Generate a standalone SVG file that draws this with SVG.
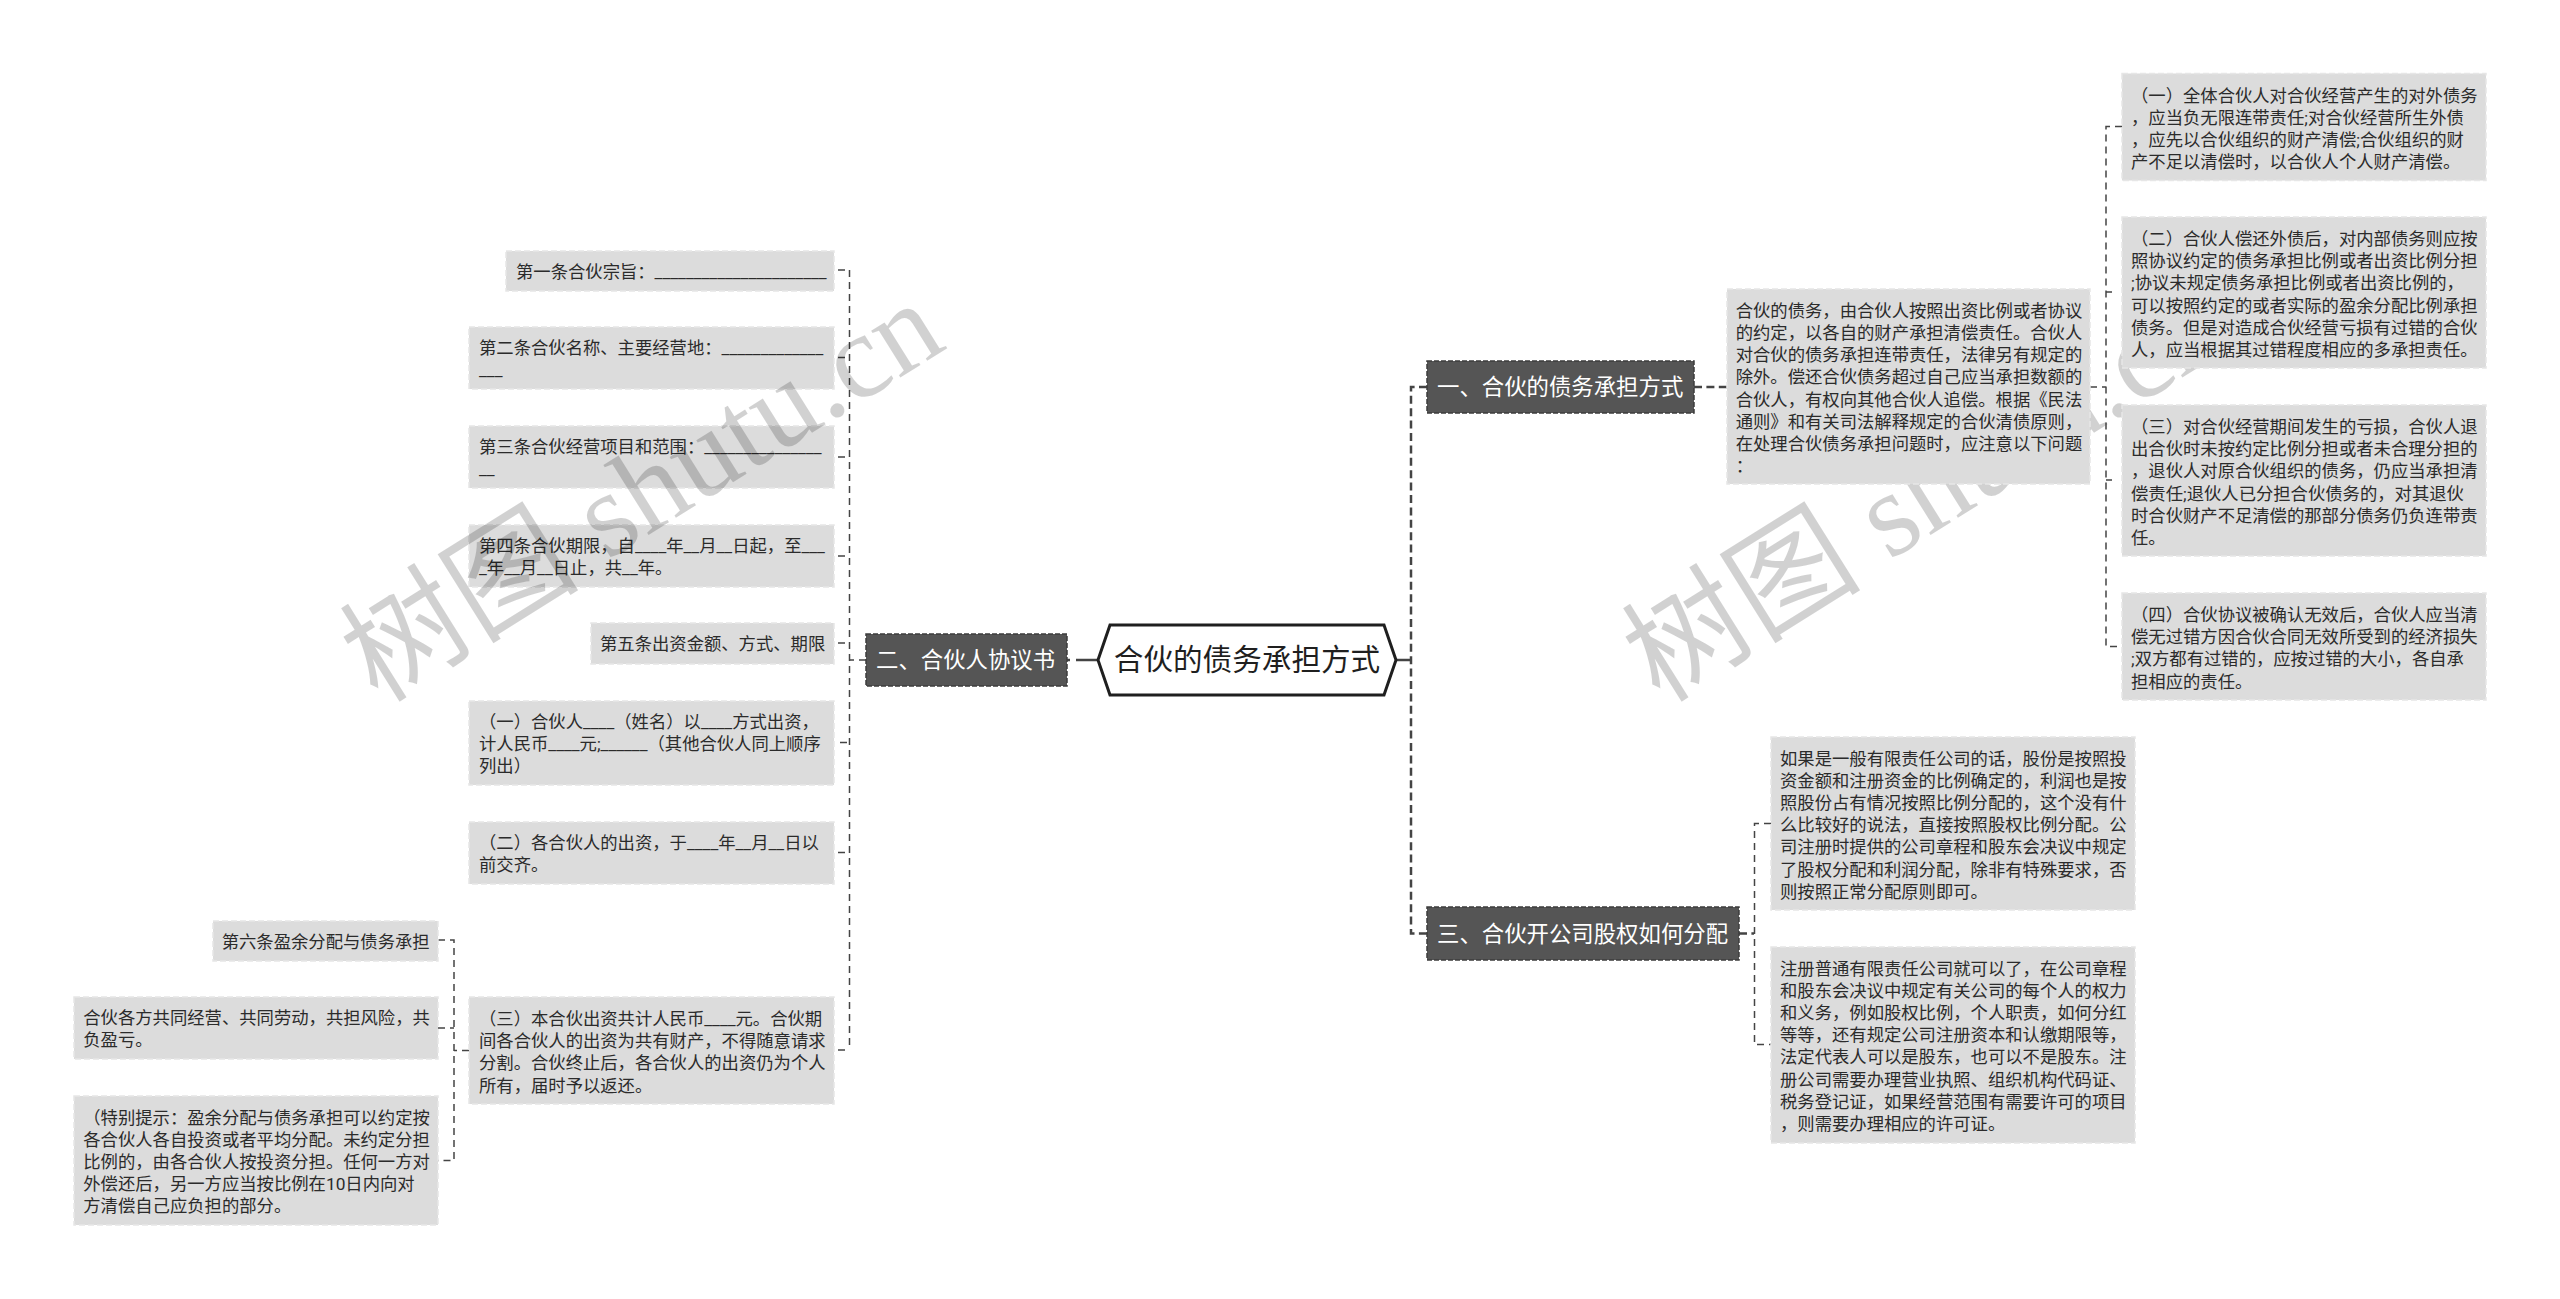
<svg xmlns="http://www.w3.org/2000/svg" width="2560" height="1299" viewBox="0 0 2560 1299">
<style>
text{font-family:Roboto,"Noto Sans CJK SC",sans-serif}
.bg{fill:#fff}
.wm{font-family:"Liberation Serif","Noto Sans CJK SC",serif;font-size:120px;fill:#000;fill-opacity:.18}
.leaf{fill:#dcdcdc;stroke:#e6e6e6;stroke-width:1.5;stroke-dasharray:6 3}
.lt{font-size:17.33px;fill:#2b2b2b}
.branch{fill:#555;stroke:#3c3c3c;stroke-width:1.5;stroke-dasharray:5 2}
.bt{font-size:22.4px;fill:#fff}
.hex{fill:#fff;stroke:#1f1f1f;stroke-width:3}
.ht{font-size:29.6px;fill:#1f1f1f}
.c1{fill:none;stroke:#444;stroke-width:2.5;stroke-dasharray:8 4.4}
.c2{fill:none;stroke:#444;stroke-width:1.5;stroke-dasharray:7 5}
.c0{fill:none;stroke:#444;stroke-width:2.5}
</style>
<rect class="bg" width="2560" height="1299"/>
<text class="wm" transform="translate(1660 704) rotate(-32)">树图 shutu.cn</text>
<g id="connectors">
<path class="c0" d="M1396 660H1411M1076 660H1098M1067 660H1070"/>
<path class="c1" d="M1427 387H1411V933.5H1427"/>
<path class="c1" d="M1694 387H1727"/>
<path class="c1" d="M1739 933.5H1754"/>
<path class="c2" d="M866 660H850M849.5 270V1050"/>
<path class="c2" d="M838 270H849M838 357.5H849M838 457H849M838 556H849M838 643H849M840 742.500H849M838 852.500H849M838 1050H849"/>
<path class="c2" d="M2090 387H2106M2122 126.500H2106V646.500H2122M2112 292H2106M2112 480H2106"/>
<path class="c2" d="M1771 823.500H1754.500V1044.500H1771"/>
<path class="c2" d="M469 1050.500H454M438 940H454V1160.500H438M438 1028H454"/>
</g>
<g id="root"><path class="hex" d="M1098 660L1110 625H1384L1396 660L1384 695H1110Z"/><text class="ht" x="1247" y="670" text-anchor="middle">合伙的债务承担方式</text></g>
<g id="b1"><rect class="branch" x="1427" y="361" width="267" height="52"/><text class="bt" x="1437" y="395">一、合伙的债务承担方式</text></g>
<g id="b2"><rect class="branch" x="866" y="634" width="201" height="52"/><text class="bt" x="876" y="668">二、合伙人协议书</text></g>
<g id="b3"><rect class="branch" x="1427" y="907" width="312" height="53"/><text class="bt" x="1437" y="941.500">三、合伙开公司股权如何分配</text></g>
<g id="r0"><rect class="leaf" x="1727" y="289" width="363" height="195"/><text class="lt" y="317"><tspan x="1735.700">合伙的债务，由合伙人按照出资比例或者协议</tspan><tspan x="1735.700" dy="22.13">的约定，以各自的财产承担清偿责任。合伙人</tspan><tspan x="1735.700" dy="22.13">对合伙的债务承担连带责任，法律另有规定的</tspan><tspan x="1735.700" dy="22.13">除外。偿还合伙债务超过自己应当承担数额的</tspan><tspan x="1735.700" dy="22.13">合伙人，有权向其他合伙人追偿。根据《民法</tspan><tspan x="1735.700" dy="22.13">通则》和有关司法解释规定的合伙清债原则，</tspan><tspan x="1735.700" dy="22.13">在处理合伙债务承担问题时，应注意以下问题</tspan><tspan x="1735.700" dy="22.13">：</tspan></text></g>
<g id="r1"><rect class="leaf" x="2122" y="73.500" width="364" height="107"/><text class="lt" y="101.500"><tspan x="2131">（一）全体合伙人对合伙经营产生的对外债务</tspan><tspan x="2131" dy="22.2">，应当负无限连带责任;对合伙经营所生外债</tspan><tspan x="2131" dy="22.2">，应先以合伙组织的财产清偿;合伙组织的财</tspan><tspan x="2131" dy="22.2">产不足以清偿时，以合伙人个人财产清偿。</tspan></text></g>
<g id="r2"><rect class="leaf" x="2122" y="217" width="364" height="151"/><text class="lt" y="245"><tspan x="2131">（二）合伙人偿还外债后，对内部债务则应按</tspan><tspan x="2131" dy="22.2">照协议约定的债务承担比例或者出资比例分担</tspan><tspan x="2131" dy="22.2">;协议未规定债务承担比例或者出资比例的，</tspan><tspan x="2131" dy="22.2">可以按照约定的或者实际的盈余分配比例承担</tspan><tspan x="2131" dy="22.2">债务。但是对造成合伙经营亏损有过错的合伙</tspan><tspan x="2131" dy="22.2">人，应当根据其过错程度相应的多承担责任。</tspan></text></g>
<g id="r3"><rect class="leaf" x="2122" y="405" width="364" height="151"/><text class="lt" y="433"><tspan x="2131">（三）对合伙经营期间发生的亏损，合伙人退</tspan><tspan x="2131" dy="22.2">出合伙时未按约定比例分担或者未合理分担的</tspan><tspan x="2131" dy="22.2">，退伙人对原合伙组织的债务，仍应当承担清</tspan><tspan x="2131" dy="22.2">偿责任;退伙人已分担合伙债务的，对其退伙</tspan><tspan x="2131" dy="22.2">时合伙财产不足清偿的那部分债务仍负连带责</tspan><tspan x="2131" dy="22.2">任。</tspan></text></g>
<g id="r4"><rect class="leaf" x="2122" y="593" width="364" height="107"/><text class="lt" y="621"><tspan x="2131">（四）合伙协议被确认无效后，合伙人应当清</tspan><tspan x="2131" dy="22.2">偿无过错方因合伙合同无效所受到的经济损失</tspan><tspan x="2131" dy="22.2">;双方都有过错的，应按过错的大小，各自承</tspan><tspan x="2131" dy="22.2">担相应的责任。</tspan></text></g>
<g id="s1"><rect class="leaf" x="1771" y="737" width="364" height="173"/><text class="lt" y="764.500"><tspan x="1780">如果是一般有限责任公司的话，股份是按照投</tspan><tspan x="1780" dy="22.2">资金额和注册资金的比例确定的，利润也是按</tspan><tspan x="1780" dy="22.2">照股份占有情况按照比例分配的，这个没有什</tspan><tspan x="1780" dy="22.2">么比较好的说法，直接按照股权比例分配。公</tspan><tspan x="1780" dy="22.2">司注册时提供的公司章程和股东会决议中规定</tspan><tspan x="1780" dy="22.2">了股权分配和利润分配，除非有特殊要求，否</tspan><tspan x="1780" dy="22.2">则按照正常分配原则即可。</tspan></text></g>
<g id="s2"><rect class="leaf" x="1771" y="947" width="364" height="196"/><text class="lt" y="974.500"><tspan x="1780">注册普通有限责任公司就可以了，在公司章程</tspan><tspan x="1780" dy="22.2">和股东会决议中规定有关公司的每个人的权力</tspan><tspan x="1780" dy="22.2">和义务，例如股权比例，个人职责，如何分红</tspan><tspan x="1780" dy="22.2">等等，还有规定公司注册资本和认缴期限等，</tspan><tspan x="1780" dy="22.2">法定代表人可以是股东，也可以不是股东。注</tspan><tspan x="1780" dy="22.2">册公司需要办理营业执照、组织机构代码证、</tspan><tspan x="1780" dy="22.2">税务登记证，如果经营范围有需要许可的项目</tspan><tspan x="1780" dy="22.2">，则需要办理相应的许可证。</tspan></text></g>
<g id="l1"><rect class="leaf" x="506" y="251" width="328" height="40"/><text class="lt" x="516" y="278">第一条合伙宗旨：______________________</text></g>
<g id="l2"><rect class="leaf" x="469" y="327" width="365" height="62"/><text class="lt" y="354"><tspan x="479">第二条合伙名称、主要经营地：_____________</tspan><tspan x="479" dy="22.2">___</tspan></text></g>
<g id="l3"><rect class="leaf" x="469" y="426" width="365" height="62"/><text class="lt" y="453"><tspan x="479">第三条合伙经营项目和范围：_______________</tspan><tspan x="479" dy="22.2">__</tspan></text></g>
<g id="l4"><rect class="leaf" x="469" y="525" width="365" height="62"/><text class="lt" y="552"><tspan x="479">第四条合伙期限，自____年__月__日起，至___</tspan><tspan x="479" dy="22.2">_年__月__日止，共__年。</tspan></text></g>
<g id="l5"><rect class="leaf" x="591" y="623" width="243" height="41"/><text class="lt" x="600" y="650">第五条出资金额、方式、期限</text></g>
<g id="l6"><rect class="leaf" x="469" y="701" width="365" height="84"/><text class="lt" y="728"><tspan x="479">（一）合伙人____（姓名）以____方式出资，</tspan><tspan x="479" dy="22.2">计人民币____元;______（其他合伙人同上顺序</tspan><tspan x="479" dy="22.2">列出）</tspan></text></g>
<g id="l7"><rect class="leaf" x="469" y="822" width="365" height="62"/><text class="lt" y="849"><tspan x="479">（二）各合伙人的出资，于____年__月__日以</tspan><tspan x="479" dy="22.2">前交齐。</tspan></text></g>
<g id="l8"><rect class="leaf" x="469" y="997" width="365" height="107"/><text class="lt" y="1025"><tspan x="479">（三）本合伙出资共计人民币____元。合伙期</tspan><tspan x="479" dy="22.2">间各合伙人的出资为共有财产，不得随意请求</tspan><tspan x="479" dy="22.2">分割。合伙终止后，各合伙人的出资仍为个人</tspan><tspan x="479" dy="22.2">所有，届时予以返还。</tspan></text></g>
<g id="f1"><rect class="leaf" x="213" y="921" width="225" height="40"/><text class="lt" x="221.700" y="948">第六条盈余分配与债务承担</text></g>
<g id="f2"><rect class="leaf" x="74" y="997" width="364" height="62"/><text class="lt" y="1024"><tspan x="83.300">合伙各方共同经营、共同劳动，共担风险，共</tspan><tspan x="83.300" dy="22.2">负盈亏。</tspan></text></g>
<g id="f3"><rect class="leaf" x="74" y="1096" width="364" height="129"/><text class="lt" y="1123.500"><tspan x="83.300">（特别提示：盈余分配与债务承担可以约定按</tspan><tspan x="83.300" dy="22.2">各合伙人各自投资或者平均分配。未约定分担</tspan><tspan x="83.300" dy="22.2">比例的，由各合伙人按投资分担。任何一方对</tspan><tspan x="83.300" dy="22.2">外偿还后，另一方应当按比例在10日内向对</tspan><tspan x="83.300" dy="22.2">方清偿自己应负担的部分。</tspan></text></g>
<text class="wm" transform="translate(378 704) rotate(-32)">树图 shutu.cn</text>
</svg>
